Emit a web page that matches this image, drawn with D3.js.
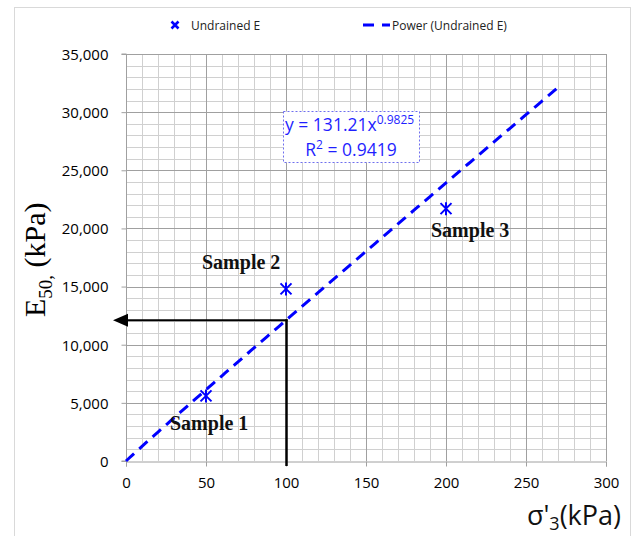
<!DOCTYPE html>
<html>
<head>
<meta charset="utf-8">
<script src="https://cdn.jsdelivr.net/npm/d3@7"></script>
<style>
  html, body { margin: 0; padding: 0; background: #fff; }
  svg { display: block; }
</style>
</head>
<body>
<svg id="chart" width="633" height="536"></svg>
<script>
// Measured confining stress (kPa) and undrained secant modulus E50 (kPa)
const sampleNames = ["Sample 1", "Sample 2", "Sample 3"];
const sigma3 = [50, 100, 200];
const e50 = [5600, 14800, 21700];

// Power trendline y = a * x^b, as given by the fit label
const trendA = 131.21;
const trendB = 0.9825;
const trendR2 = 0.9419;
const trendXMax = 270;

// Reading taken off the trendline
const readX = 100;

const xTicks = [0, 50, 100, 150, 200, 250, 300];
const yTicks = [0, 5000, 10000, 15000, 20000, 25000, 30000, 35000];

const svg = d3.select("#chart");
const m = { left: 126, right: 606, top: 54, bottom: 461 };

const x = d3.scaleLinear().domain([0, 300]).range([m.left, m.right]);
const y = d3.scaleLinear().domain([0, 35000]).range([m.bottom, m.top]);

const tickFont = "'Open Sans', 'Noto Sans', sans-serif";
const serif = "'Liberation Serif', 'DejaVu Serif', serif";

// Outer chart border
svg.append("rect")
  .attr("x", 14.5).attr("y", 7.5)
  .attr("width", 616).attr("height", 540)
  .attr("fill", "#fff").attr("stroke", "#d9d9d9");

// Minor and major grid
const g = svg.append("g");
g.selectAll(".vmin").data(d3.range(10, 300, 10).filter(v => v % 50))
  .join("line")
  .attr("x1", d => Math.round(x(d)) + 0.5).attr("x2", d => Math.round(x(d)) + 0.5)
  .attr("y1", m.top).attr("y2", m.bottom)
  .attr("stroke", "#d0d0d0").attr("stroke-width", 1);
g.selectAll(".hmin").data(d3.range(1000, 35000, 1000).filter(v => v % 5000))
  .join("line")
  .attr("y1", d => Math.round(y(d)) + 0.5).attr("y2", d => Math.round(y(d)) + 0.5)
  .attr("x1", m.left).attr("x2", m.right)
  .attr("stroke", "#d0d0d0").attr("stroke-width", 1);
g.selectAll(".vmaj").data(xTicks.filter(v => v > 0))
  .join("line")
  .attr("x1", d => Math.round(x(d)) + 0.5).attr("x2", d => Math.round(x(d)) + 0.5)
  .attr("y1", m.top).attr("y2", m.bottom)
  .attr("stroke", "#a0a0a0").attr("stroke-width", 1);
g.selectAll(".hmaj").data(yTicks.filter(v => v > 0))
  .join("line")
  .attr("y1", d => Math.round(y(d)) + 0.5).attr("y2", d => Math.round(y(d)) + 0.5)
  .attr("x1", m.left).attr("x2", m.right)
  .attr("stroke", "#a0a0a0").attr("stroke-width", 1);

// Axes
const xAxis = d3.axisBottom(x).tickValues(xTicks).tickSize(5).tickPadding(11)
  .tickFormat(d3.format("d"));
const yAxis = d3.axisLeft(y).tickValues(yTicks).tickSize(5).tickPadding(13)
  .tickFormat(d3.format(","));

const gx = svg.append("g").attr("transform", `translate(0,${m.bottom + 0.5})`).call(xAxis);
const gy = svg.append("g").attr("transform", `translate(${m.left + 0.5},0)`).call(yAxis);
[gx, gy].forEach(a => {
  a.select(".domain").attr("stroke", "#a0a0a0");
  a.selectAll(".tick line").attr("stroke", "#a0a0a0");
  a.selectAll(".tick text").attr("fill", "#000")
    .style("font-family", tickFont).style("font-size", "15px");
});
gy.select(".domain").attr("d", `M-5,${m.bottom}H0V${m.top}H-5`);
gy.selectAll(".tick text").attr("dy", "0.36em");

// Power trendline
const trendXs = d3.range(0, trendXMax + 0.5, 2);
const line = d3.line().x(d => x(d)).y(d => y(trendA * Math.pow(d, trendB)));
svg.append("path").datum(trendXs)
  .attr("d", line)
  .attr("fill", "none").attr("stroke", "#0000ff")
  .attr("stroke-width", 3).attr("stroke-dasharray", "11,7");

// Reading arrows from the trendline at readX
const readY = trendA * Math.pow(readX, trendB);
const px = Math.round(x(readX)) + 0.5, py = y(readY);
svg.append("line")
  .attr("x1", px).attr("x2", px).attr("y1", py - 1).attr("y2", m.bottom + 5)
  .attr("stroke", "#000").attr("stroke-width", 2.5);
svg.append("line")
  .attr("x1", px + 1).attr("x2", 126).attr("y1", py).attr("y2", py)
  .attr("stroke", "#000").attr("stroke-width", 2.2);
svg.append("path")
  .attr("d", `M113,${py} L128,${py - 6.5} L128,${py + 6.5} Z`)
  .attr("fill", "#000");

// Data markers (asterisk-style X)
const marker = s => `M${-s},${-s}L${s},${s}M${-s},${s}L${s},${-s}M0,${-s - 1}L0,${s + 1}`;
svg.selectAll(".pt").data(sigma3)
  .join("path")
  .attr("transform", (d, i) => `translate(${x(d)},${y(e50[i])})`)
  .attr("d", marker(5.5))
  .attr("fill", "none").attr("stroke", "#0000ff").attr("stroke-width", 2);

// Sample labels
const labelPos = [[170, 430], [202, 269], [431, 237]];
svg.selectAll(".lab").data(sampleNames)
  .join("text")
  .attr("x", (d, i) => labelPos[i][0]).attr("y", (d, i) => labelPos[i][1])
  .text(d => d)
  .style("font-family", serif).style("font-weight", "bold").style("font-size", "20px")
  .attr("fill", "#111");

// Equation box
svg.append("rect")
  .attr("x", 283.5).attr("y", 111.5).attr("width", 136).attr("height", 51)
  .attr("fill", "#fff").attr("stroke", "#6f6fee").attr("stroke-width", 1)
  .attr("stroke-dasharray", "2,2");
const eq = svg.append("text").attr("x", 285).attr("y", 131)
  .style("font-family", tickFont).style("font-size", "17.5px").attr("fill", "#1f1fff");
eq.append("tspan").text(`y = ${trendA}x`);
eq.append("tspan").attr("dy", -7).style("font-size", "12px").text(trendB);
const r2 = svg.append("text").attr("x", 351).attr("y", 156).attr("text-anchor", "middle")
  .style("font-family", tickFont).style("font-size", "17.5px").attr("fill", "#1f1fff");
r2.append("tspan").text("R");
r2.append("tspan").attr("dy", -7).style("font-size", "12px").text("2");
r2.append("tspan").attr("dy", 7).text(` = ${trendR2}`);

// Legend
const lg = svg.append("g");
lg.append("path").attr("transform", "translate(175,25)")
  .attr("d", "M-3.5,-3.5L3.5,3.5M-3.5,3.5L3.5,-3.5")
  .attr("stroke", "#0000ff").attr("stroke-width", 2.6).attr("fill", "none");
lg.append("text").attr("x", 191).attr("y", 29.5).text("Undrained E")
  .style("font-family", tickFont).style("font-size", "12px").attr("fill", "#222");
lg.append("line").attr("x1", 363).attr("x2", 390).attr("y1", 25).attr("y2", 25)
  .attr("stroke", "#0000ff").attr("stroke-width", 3).attr("stroke-dasharray", "11,8");
lg.append("text").attr("x", 392).attr("y", 29.5).text("Power (Undrained E)")
  .style("font-family", tickFont).style("font-size", "12px").attr("fill", "#222");

// Axis titles
const yt = svg.append("text")
  .attr("transform", "translate(45,317) rotate(-90)")
  .style("font-family", serif).style("font-size", "30px").attr("fill", "#000");
yt.append("tspan").text("E");
yt.append("tspan").attr("dy", 7).style("font-size", "19px").text("50,");
yt.append("tspan").attr("dy", -7).text(" (kPa)");

const xt = svg.append("text").attr("x", 621).attr("y", 525).attr("text-anchor", "end")
  .style("font-family", tickFont).style("font-size", "27px").attr("fill", "#111");
xt.append("tspan").text("σ'");
xt.append("tspan").attr("dy", 5).style("font-size", "18px").text("3");
xt.append("tspan").attr("dy", -5).text("(kPa)");
</script>
</body>
</html>
